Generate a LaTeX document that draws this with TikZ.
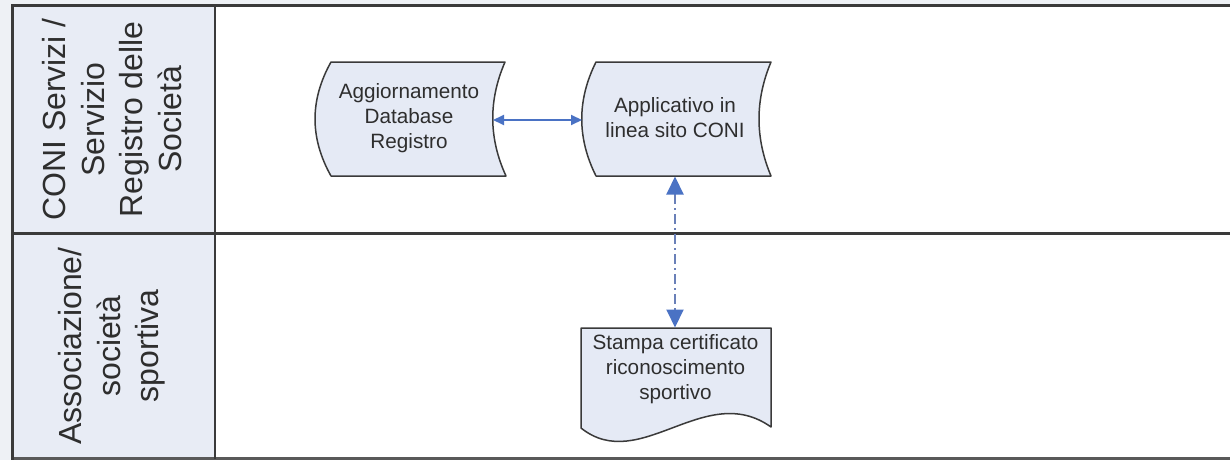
\documentclass[tikz,border=0pt]{standalone}
\usepackage{fontspec}
\setmainfont{Liberation Sans}
\usetikzlibrary{arrows.meta}
\definecolor{lanefill}{HTML}{E8ECF5}
\definecolor{boxfill}{HTML}{E5EAF5}
\definecolor{linedark}{HTML}{3A3A3A}
\definecolor{arrowblue}{HTML}{4A72C4}
\definecolor{dashblue}{HTML}{6A80B8}
\definecolor{marginc}{HTML}{EEF1F5}
\definecolor{txt}{HTML}{2E2E2E}
\begin{document}
\begin{tikzpicture}[x=1pt,y=-1pt,
  shapebox/.style={fill=boxfill,draw=linedark,line width=1.5pt,line join=round},
  boxtext/.style={font=\fontsize{20.7}{25}\selectfont,text=txt,align=center,inner sep=0pt},
  lanetext/.style={font=\fontsize{32}{38.5}\selectfont,text=txt,align=center,rotate=90,inner sep=0pt},
  laneline/.style={draw=linedark,line width=3pt},
  flow/.style={draw=arrowblue,line width=2pt,
    {Triangle[length=11pt,width=10pt]}-{Triangle[length=11pt,width=10pt]}},
  dashflow/.style={draw=dashblue,line width=2pt,dash pattern=on 10pt off 4pt on 2pt off 4pt,
    {Triangle[length=18pt,width=17pt,color=arrowblue]}-{Triangle[length=18pt,width=17pt,color=arrowblue]}}
]
\useasboundingbox (0,0) rectangle (1230,460);
\fill[white] (0,0) rectangle (1230,460);
\fill[marginc] (0,0) rectangle (12,460);
\fill[marginc] (0,0) rectangle (1230,5);
\fill[lanefill] (12,6) rectangle (215,458.5);

% lane lines
\draw[laneline] (12,6) -- (1230,6);
\draw[laneline] (12,233) -- (1230,233);
\draw[draw=gray!70!black,line width=2.5pt] (12,458.5) -- (1230,458.5);
\draw[laneline] (12,4.5) -- (12,460);
\draw[draw=linedark,line width=2pt] (215,6) -- (215,458.5);

% lane headers
\node[lanetext] (lane1) at (112,119.5) {CONI Servizi /\\Servizio\\Registro delle\\Società};
\node[lanetext] (lane2) at (112,346) {Associazione/\\società\\sportiva};

% stored data shapes
\draw[shapebox] (331,62) -- (505,62) .. controls (488.5,100) and (488.5,138) .. (506,176)
  -- (331,176) .. controls (309.7,138) and (309.7,100) .. cycle;
\draw[shapebox] (596,62) -- (771,62) .. controls (755,100) and (755,138) .. (771,176)
  -- (596,176) .. controls (577,138) and (577,100) .. cycle;

% document shape
\draw[shapebox] (581,328) -- (771,328) -- (771,427) .. controls (705,380) and (640,475) .. (581,428) -- cycle;

% texts
\node[boxtext] (b1) at (409,118.5) {Aggiornamento\\Database\\Registro};
\node[boxtext] (b2) at (675,117.5) {Applicativo in\\linea sito CONI};
\node[boxtext] (d1) at (675.5,369) {Stampa certificato\\riconoscimento\\sportivo};

% connectors
\coordinate (b1r) at (493,120);
\coordinate (b2l) at (582,120);
\coordinate (b2b) at (675,176.5);
\coordinate (d1t) at (675,327.5);
\draw[flow] (b1r) -- (b2l);
\draw[dashflow] (b2b) -- (d1t);
\end{tikzpicture}
\end{document}
